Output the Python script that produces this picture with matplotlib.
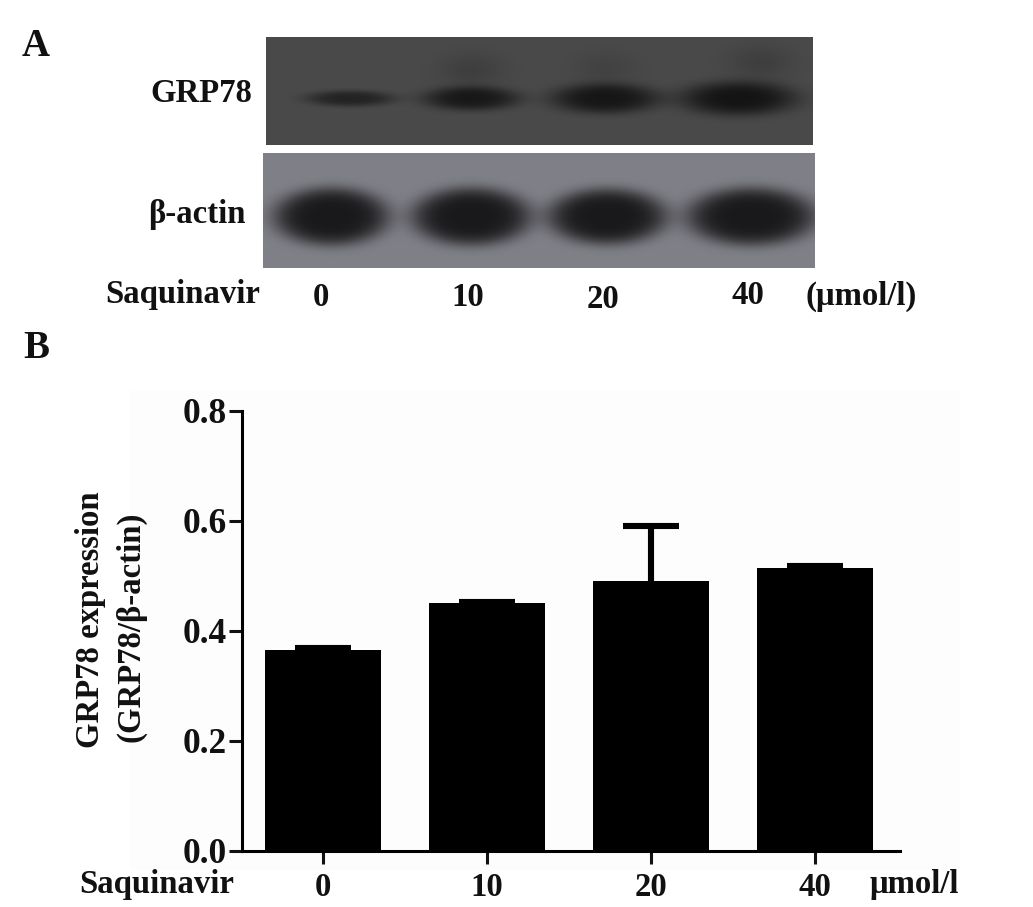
import numpy as np
import matplotlib
matplotlib.use('Agg')
import matplotlib.pyplot as plt
from matplotlib.patches import Rectangle

plt.rcParams['font.family'] = ['Liberation Serif', 'DejaVu Serif']
plt.rcParams['font.weight'] = 'bold'

W, H = 1033, 907

# Bar chart values
doses = ['0', '10', '20', '40']
expression = [0.365, 0.450, 0.491, 0.514]
error_up = [0.003, 0.002, 0.099, 0.0045]
y_ticks = [0.0, 0.2, 0.4, 0.6, 0.8]

# Blot bands (pixel centre, half width, half height, strength)
grp78_x = [350, 471, 605, 738]
grp78_w = [44, 48, 54, 58]
grp78_h = [8, 12, 15, 17]
grp78_dark = [0.15, 0.19, 0.20, 0.21]
smear_x = [471, 605, 760]
smear_y = [70, 68, 62]
smear_dark = [0.045, 0.03, 0.045]

actin_x = [331, 471, 607, 751]
actin_w = [58, 60, 60, 65]
actin_h = [29, 29, 28, 29]
actin_dark = [0.40, 0.40, 0.40, 0.40]


def px_axes(left, top, right, bottom):
    return fig.add_axes([left / W, 1 - bottom / H, (right - left) / W, (bottom - top) / H])


def blot_panel(left, top, right, bottom, bg, xs, ws, hs, darks, yc, power, tint=1.0):
    xx, yy = np.meshgrid(np.arange(left, right), np.arange(top, bottom))
    img = np.full(xx.shape, bg, dtype=float)
    for x0, w, h, d in zip(xs, ws, hs, darks):
        r = ((xx - x0) / w) ** 2 + ((yy - yc) / h) ** 2
        img -= d * np.exp(-r ** power)
    ax = px_axes(left, top, right, bottom)
    rgb = np.clip(np.dstack([img, img, img * tint]), 0, 1)
    ax.imshow(rgb, aspect='auto', interpolation='bilinear')
    ax.axis('off')
    return ax, xx, yy, img


def label(x, y, s, size=23.6, **kw):
    fig.text(x / W, 1 - y / H, s, fontsize=size, ha='center', va='center', color='#111111', **kw)


fig = plt.figure(figsize=(W / 100, H / 100), dpi=100, facecolor='white')
fig.add_artist(Rectangle((130 / W, 1 - 870 / H), 830 / W, 480 / H, transform=fig.transFigure,
                         facecolor='#fdfdfd', edgecolor='none', zorder=-1))

# Panel A
ax_g, xx, yy, img = blot_panel(266, 37, 813, 145, 0.29, grp78_x, grp78_w, grp78_h, grp78_dark, 98, 1.7)
for x0, y0, d in zip(smear_x, smear_y, smear_dark):
    img -= d * np.exp(-(((xx - x0) / 32) ** 2 + ((yy - y0) / 17) ** 2))
ax_g.images[0].set_data(np.clip(np.dstack([img, img, img]), 0, 1))
blot_panel(263, 153, 815, 268, 0.50, actin_x, actin_w, actin_h, actin_dark, 216, 2.4, tint=1.06)

label(36, 46, 'A', size=28)
label(36, 349, 'B', size=28)
label(201, 93, 'GRP78')
label(197, 214, 'β-actin')
label(183, 294, 'Saquinavir')
for x, s, y in zip([321, 468, 603, 748], doses, [297, 297, 300, 296]):
    label(x, y, s)
label(861, 296, '(μmol/l)')

# Panel B
ax = px_axes(241.7, 410.7, 900, 850.7)
ax.patch.set_alpha(0)
xpos = np.arange(len(doses))
ax.bar(xpos, expression, width=0.71, color='black')
_, caps, _ = ax.errorbar(xpos, expression, yerr=[np.zeros(len(doses)), error_up], fmt='none', ecolor='black',
                         elinewidth=4.4, capsize=20, capthick=4.4)
caps[0].set_visible(False)  # upper caps only
ax.set_xlim(-0.496, 3.518)
ax.set_ylim(0, 0.8)
ax.set_xticks(xpos)
ax.set_xticklabels(doses)
ax.set_yticks(y_ticks)
ax.set_yticklabels([f'{v:.1f}' for v in y_ticks])
ax.spines['top'].set_visible(False)
ax.spines['right'].set_visible(False)
for side in ['left', 'bottom']:
    ax.spines[side].set_linewidth(2.2)
ax.tick_params(axis='both', width=2.2, length=9.5, labelsize=23.6, colors='#111111')
ax.tick_params(axis='x', pad=6)
ax.tick_params(axis='y', pad=1, labelsize=25.5)

label(157, 884, 'Saquinavir')
label(914, 885, 'μmol/l')
label(91, 620, 'GRP78 expression', rotation=90)
label(131, 627, '(GRP78/β-actin)', rotation=90)

fig.savefig('out.png', dpi=100)
